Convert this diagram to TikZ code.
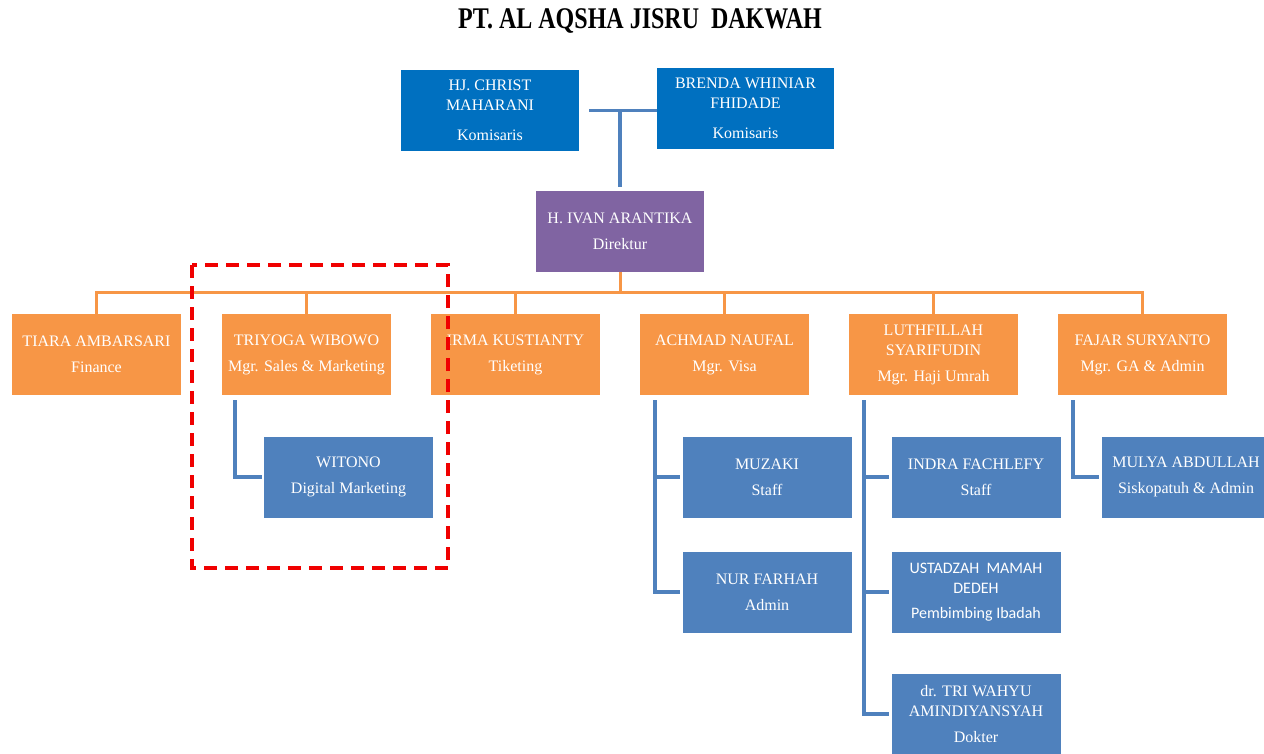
\documentclass[tikz,border=0pt]{standalone}
\usepackage{fontspec}
\setmainfont{Liberation Serif}
\newfontfamily\carlito{Carlito}
\usetikzlibrary{calc}
\definecolor{kblue}{HTML}{0070C0}
\definecolor{dpurple}{HTML}{8064A2}
\definecolor{morange}{HTML}{F79646}
\definecolor{sblue}{HTML}{4F81BD}
\definecolor{lblue}{HTML}{4F81BD}
\definecolor{dred}{HTML}{F00000}
\begin{document}
\begin{tikzpicture}[x=1pt,y=-1pt,
  box/.style={rectangle, inner sep=0pt, minimum width=169pt, minimum height=81pt,
    text=white, align=center, font=\fontsize{16}{20}\selectfont},
  kbox/.style={box, fill=kblue, minimum width=178pt},
  dbox/.style={box, fill=dpurple, minimum width=168pt},
  obox/.style={box, fill=morange},
  sbox/.style={box, fill=sblue},
  bline/.style={draw=lblue, line width=3.5pt},
  oline/.style={draw=morange, line width=3pt},
  reddash/.style={draw=dred, line width=3.5pt, dash pattern=on 13pt off 8pt},
  titlestyle/.style={inner sep=0pt, font=\fontsize{30}{32}\selectfont\bfseries}
]
\useasboundingbox (0,0) rectangle (1264,753);

% title
\node[titlestyle] (title) at (640,21) {\scalebox{0.8}[1]{PT. AL AQSHA JISRU\ \ DAKWAH}};

% commissioners and director
\node[kbox] (hj) at (490,110.5) {HJ. CHRIST\\MAHARANI\\[10pt]Komisaris};
\node[kbox, minimum width=177pt] (brenda) at (745.5,108) {BRENDA WHINIAR\\FHIDADE\\[10pt]Komisaris};
\node[dbox] (dir) at (620,231.5) {H. IVAN ARANTIKA\\[6pt]Direktur};

% managers
\node[obox] (tiara) at (96.5,354.5) {TIARA AMBARSARI\\[6pt]Finance};
\node[obox] (triyoga) at (306.5,354.5) {TRIYOGA WIBOWO\\[6pt]Mgr. Sales \& Marketing};
\node[obox] (irma) at (515.5,354.5) {IRMA KUSTIANTY\\[6pt]Tiketing};
\node[obox] (achmad) at (724.5,354.5) {ACHMAD NAUFAL\\[6pt]Mgr. Visa};
\node[obox] (luth) at (933.5,354.5) {LUTHFILLAH\\SYARIFUDIN\\[6pt]Mgr. Haji Umrah};
\node[obox] (fajar) at (1142.5,354.5) {FAJAR SURYANTO\\[6pt]Mgr. GA \& Admin};

% staff
\node[sbox] (witono) at (348.5,477) {WITONO\\[6pt]Digital Marketing};
\node[sbox] (muzaki) at (767,477) {MUZAKI\\[6pt]Staff};
\node[sbox] (nur) at (767,592) {NUR FARHAH\\[6pt]Admin};
\node[sbox] (indra) at (976,477) {INDRA FACHLEFY\\[6pt]Staff};
\node[sbox, font=\carlito\fontsize{16}{20}\selectfont] (ustadzah) at (976,592) {USTADZAH\ \ MAMAH\\DEDEH\\[5pt]Pembimbing Ibadah};
\node[sbox, minimum height=80pt] (drtri) at (976,714) {dr. TRI WAHYU\\AMINDIYANSYAH\\[6pt]Dokter};
\node[sbox] (mulya) at (1186,477) {MULYA ABDULLAH\\[6pt]Siskopatuh \& Admin};

% commissioner connectors
\draw[bline] ($(hj.east)+(10,0)$) -- (brenda.west |- hj.east);
\draw[bline, shorten <=4pt] (dir.north) -- (dir.north |- hj.east);

% orange bus
\draw[oline] (dir.south) -- ++(0,21);
\draw[oline] (tiara.north) -- ++(0,-21) -| (fajar.north);
\foreach \n in {triyoga,irma,achmad,luth} {
  \draw[oline] (\n.north) -- ++(0,-21);
}

% staff connectors
\coordinate (tyS) at ($(triyoga.south west)+(13,5)$);
\draw[bline, shorten >=2pt] (tyS) |- (witono.west);

\coordinate (anS) at ($(achmad.south west)+(15,5)$);
\draw[bline, shorten >=2pt] (anS) |- (nur.west);
\draw[bline, shorten >=2pt] (anS |- muzaki.west) -- (muzaki.west);

\coordinate (luS) at ($(luth.south west)+(15,5)$);
\draw[bline, shorten >=2pt] (luS) |- (drtri.west);
\draw[bline, shorten >=2pt] (luS |- indra.west) -- (indra.west);
\draw[bline, shorten >=2pt] (luS |- ustadzah.west) -- (ustadzah.west);

\coordinate (faS) at ($(fajar.south west)+(15,5)$);
\draw[bline, shorten >=2pt] (faS) |- (mulya.west);

% red dashed highlight
\draw[reddash] (192,265) rectangle (448,568);
\end{tikzpicture}
\end{document}
